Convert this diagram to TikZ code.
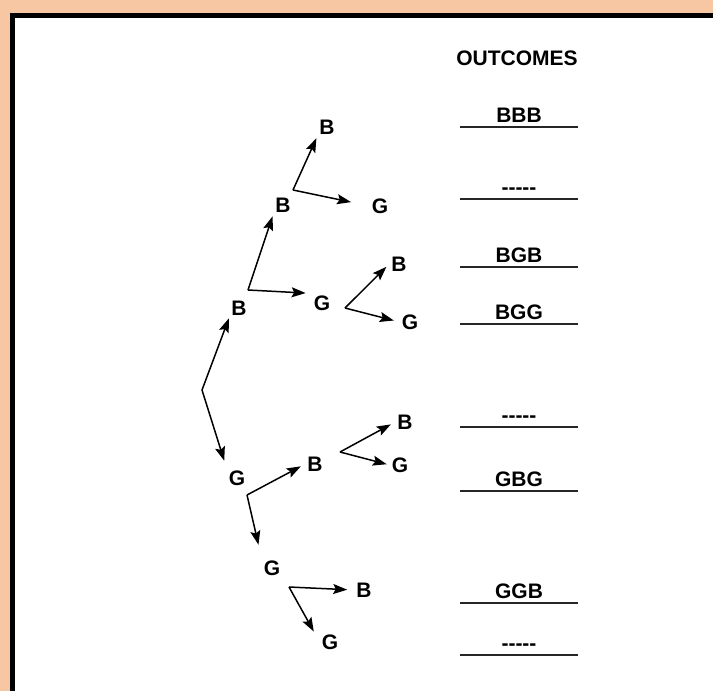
\documentclass[tikz,border=0pt]{standalone}
\usepackage{fontspec}
\setmainfont{Liberation Sans}
\usepackage{tikz}
\usetikzlibrary{arrows.meta}
\definecolor{peach}{RGB}{247,198,162}

\begin{document}
\begin{tikzpicture}[
    x=1pt, y=-1pt,
    font=\fontsize{21}{25}\selectfont\bfseries,
    kid/.style={inner sep=2pt},
    outc/.style={anchor=south, minimum width=118pt, inner xsep=0pt, inner ysep=4pt,
                 text height=15pt, text depth=0pt},
    uline/.style={line width=1.7pt, black!85},
    arr/.style={-{Stealth[length=14pt, width=10pt, inset=2.5pt]}, line width=1.5pt}
  ]
    \useasboundingbox (0,0) rectangle (713,691);
    \fill[peach] (0,0) rectangle (713,691);
    \fill[black] (9.5,13) rectangle (713,691);
    \fill[white] (15,18) rectangle (713,691);

    \node (head) at (517,58) {OUTCOMES};

    \coordinate (root) at (202,390);
    \node[kid] (b1) at (239,308) {B};
    \node[kid] (g1) at (237,478) {G};
    \node[kid] (b2) at (283,205) {B};
    \node[kid] (g2) at (322,303) {G};
    \node[kid] (b3) at (327,127) {B};
    \node[kid] (g3) at (380,206) {G};
    \node[kid] (b4) at (399,264) {B};
    \node[kid] (g4) at (410,322) {G};
    \node[kid] (b5) at (315,464) {B};
    \node[kid] (g5) at (272,568) {G};
    \node[kid] (b6) at (405,422) {B};
    \node[kid] (g6) at (400,465) {G};
    \node[kid] (b7) at (364,590) {B};
    \node[kid] (g7) at (330,642) {G};

    \coordinate (cb1) at (248,290);
    \coordinate (cb2) at (293,190);
    \coordinate (cg2) at (345,308);
    \coordinate (cg1) at (247,495);
    \coordinate (cb5) at (340,452);
    \coordinate (cg5) at (289,587);

    \draw[arr, shorten >=1pt] (root) -- (b1.south west);
    \draw[arr, shorten >=8pt] (root) -- (g1.north west);
    \draw[arr, shorten >=2pt] (cb1) -- (b2.south west);
    \draw[arr, shorten >=6pt] (cb1) -- (g2.north west);
    \draw[arr, shorten >=2pt] (cb2) -- (b3.south west);
    \draw[arr, shorten >=19pt] (cb2) -- (g3.west);
    \draw[arr, shorten >=4pt] (cg2) -- (b4.west);
    \draw[arr, shorten >=6pt] (cg2) -- (g4.west);
    \draw[arr, shorten >=5pt] (cg1) -- (b5.west);
    \draw[arr, shorten >=14pt] (cg1) -- (g5.north west);
    \draw[arr, shorten >=5pt] (cb5) -- (b6.west);
    \draw[arr, shorten >=3pt] (cb5) -- (g6.west);
    \draw[arr, shorten >=7pt] (cg5) -- (b7.west);
    \draw[arr, shorten >=12pt] (cg5) -- (g7.west);

    \node[outc] (o1) at (519,127) {BBB};
    \node[outc] (o2) at (519,199) {-{}-{}-{}-{}-};
    \node[outc] (o3) at (519,267) {BGB};
    \node[outc] (o4) at (519,324) {BGG};
    \node[outc] (o5) at (519,427) {-{}-{}-{}-{}-};
    \node[outc] (o6) at (519,491) {GBG};
    \node[outc] (o7) at (519,603) {GGB};
    \node[outc] (o8) at (519,655) {-{}-{}-{}-{}-};
    \foreach \i in {1,...,8}
      \draw[uline] (o\i.south west) -- (o\i.south east);
  \end{tikzpicture}
\end{document}
